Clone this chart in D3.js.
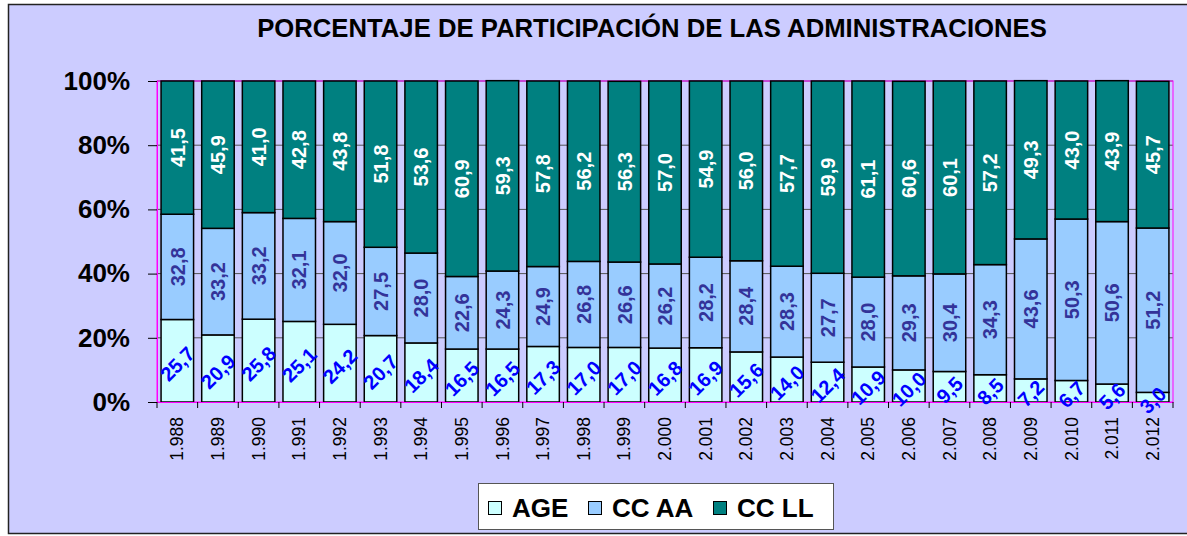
<!DOCTYPE html>
<html>
<head>
<meta charset="utf-8">
<script src="https://cdn.jsdelivr.net/npm/d3@7"></script>
<style>
  html, body { margin: 0; padding: 0; background: #ffffff; }
  svg { display: block; font-family: "Liberation Sans", Arial, sans-serif; }
</style>
</head>
<body>
<svg id="chart" width="1187" height="536"></svg>
<script>
// Values (percent of total)
const years = ["1.988", "1.989", "1.990", "1.991", "1.992", "1.993", "1.994", "1.995", "1.996",
  "1.997", "1.998", "1.999", "2.000", "2.001", "2.002", "2.003", "2.004", "2.005", "2.006",
  "2.007", "2.008", "2.009", "2.010", "2.011", "2.012"];
const age = [25.7, 20.9, 25.8, 25.1, 24.2, 20.7, 18.4, 16.5, 16.5, 17.3, 17.0, 17.0, 16.8,
  16.9, 15.6, 14.0, 12.4, 10.9, 10.0, 9.5, 8.5, 7.2, 6.7, 5.6, 3.0];
const ccaa = [32.8, 33.2, 33.2, 32.1, 32.0, 27.5, 28.0, 22.6, 24.3, 24.9, 26.8, 26.6, 26.2,
  28.2, 28.4, 28.3, 27.7, 28.0, 29.3, 30.4, 34.3, 43.6, 50.3, 50.6, 51.2];
const ccll = [41.5, 45.9, 41.0, 42.8, 43.8, 51.8, 53.6, 60.9, 59.3, 57.8, 56.2, 56.3, 57.0,
  54.9, 56.0, 57.7, 59.9, 61.1, 60.6, 60.1, 57.2, 49.3, 43.0, 43.9, 45.7];
const seriesNames = ["AGE", "CC AA", "CC LL"];
const yTicks = [0, 20, 40, 60, 80, 100];

const W = 1187, H = 536;
const plot = { left: 157, right: 1173, top: 81, bottom: 402 };
const colors = { "AGE": "#ccffff", "CC AA": "#99ccff", "CC LL": "#008080" };
const labelColors = { "AGE": "#0000ff", "CC AA": "#333399", "CC LL": "#ffffff" };

const rows = years.map((y, i) => ({ year: y, "AGE": age[i], "CC AA": ccaa[i], "CC LL": ccll[i] }));
const stacked = d3.stack().keys(seriesNames)(rows);

const svg = d3.select("#chart");

// chart background and outer frame
svg.append("rect")
  .attr("x", 8.5).attr("y", 4.5)
  .attr("width", W).attr("height", 529)
  .attr("fill", "#ccccff")
  .attr("stroke", "#222222").attr("stroke-width", 1.5);

svg.append("text")
  .attr("x", 652).attr("y", 37)
  .attr("text-anchor", "middle")
  .style("font-size", "25.7px").style("font-weight", "bold")
  .text("PORCENTAJE DE PARTICIPACIÓN DE LAS ADMINISTRACIONES");

const x = d3.scaleBand()
  .domain(years)
  .range([plot.left, plot.right])
  .paddingInner(0.2)
  .paddingOuter(0.1);

const y = d3.scaleLinear()
  .domain([0, 100])
  .range([plot.bottom, plot.top]);

// gridlines
svg.append("g")
  .selectAll("line")
  .data(yTicks.filter(d => d > 0))
  .join("line")
  .attr("x1", plot.left).attr("x2", plot.right)
  .attr("y1", d => y(d)).attr("y2", d => y(d))
  .attr("stroke", "#555555").attr("stroke-width", 1);

// plot area border
svg.append("rect")
  .attr("x", plot.left).attr("y", plot.top)
  .attr("width", plot.right - plot.left).attr("height", plot.bottom - plot.top)
  .attr("fill", "none").attr("stroke", "#ff00ff").attr("stroke-width", 1);

// bars
const layers = svg.append("g")
  .selectAll("g")
  .data(stacked)
  .join("g")
  .attr("fill", d => colors[d.key]);

layers.selectAll("rect")
  .data(d => d)
  .join("rect")
  .attr("x", d => x(d.data.year))
  .attr("width", x.bandwidth())
  .attr("y", d => y(d[1]))
  .attr("height", d => y(d[0]) - y(d[1]))
  .attr("stroke", "#000000").attr("stroke-width", 1.5);

// axes
const yAxis = d3.axisLeft(y)
  .tickValues(yTicks)
  .tickSize(9)
  .tickPadding(18)
  .tickFormat(d => d + "%");

const gy = svg.append("g")
  .attr("transform", `translate(${plot.left},0)`)
  .call(yAxis);
gy.select(".domain").attr("stroke", "#ff00ff");
gy.selectAll(".tick line").attr("stroke", "#000000");
gy.selectAll(".tick text")
  .attr("fill", "#000000")
  .style("font-size", "26px").style("font-weight", "bold")
  .style("font-family", "'Liberation Sans', Arial, sans-serif");

const xAxis = d3.axisBottom(x).tickSize(0).tickPadding(0);
const gx = svg.append("g")
  .attr("transform", `translate(0,${plot.bottom})`)
  .call(xAxis);
gx.select(".domain").attr("stroke", "#ff00ff");
gx.selectAll(".tick text")
  .attr("fill", "#000000")
  .attr("transform", "translate(0,15) rotate(-90)")
  .attr("x", 0).attr("y", 0).attr("dy", "0.35em")
  .attr("text-anchor", "end")
  .style("font-size", "17.5px")
  .style("font-family", "'Liberation Sans', Arial, sans-serif");

// category separator ticks below the axis
const step = x.step();
svg.append("g")
  .selectAll("line")
  .data(d3.range(years.length + 1))
  .join("line")
  .attr("x1", i => plot.left + i * step).attr("x2", i => plot.left + i * step)
  .attr("y1", plot.bottom).attr("y2", plot.bottom + 6)
  .attr("stroke", "#000000").attr("stroke-width", 1);

// value labels
const fmt = v => d3.format(".1f")(v).replace(".", ",");
stacked.forEach(layer => {
  const key = layer.key;
  svg.append("g")
    .selectAll("text")
    .data(layer)
    .join("text")
    .attr("transform", d => {
      const cx = x(d.data.year) + x.bandwidth() / 2;
      const cy = (y(d[0]) + y(d[1])) / 2;
      return key === "AGE"
        ? `translate(${cx},${cy + 3}) rotate(-45)`
        : `translate(${cx},${cy}) rotate(-90)`;
    })
    .attr("text-anchor", "middle")
    .attr("dy", "0.36em")
    .attr("fill", labelColors[key])
    .style("font-size", "20px").style("font-weight", "bold")
    .text(d => fmt(d.data[key]));
});

// legend
const legend = svg.append("g");
legend.append("rect")
  .attr("x", 478.5).attr("y", 483.5)
  .attr("width", 355).attr("height", 46)
  .attr("fill", "#ffffff").attr("stroke", "#555555").attr("stroke-width", 1);

const legendX = [488, 588, 713];
seriesNames.forEach((name, i) => {
  legend.append("rect")
    .attr("x", legendX[i] + 0.5).attr("y", 501.5)
    .attr("width", 13).attr("height", 13)
    .attr("fill", colors[name]).attr("stroke", "#000000").attr("stroke-width", 1);
  legend.append("text")
    .attr("x", legendX[i] + 24).attr("y", 517)
    .style("font-size", "26px").style("font-weight", "bold")
    .text(name);
});
</script>
</body>
</html>
